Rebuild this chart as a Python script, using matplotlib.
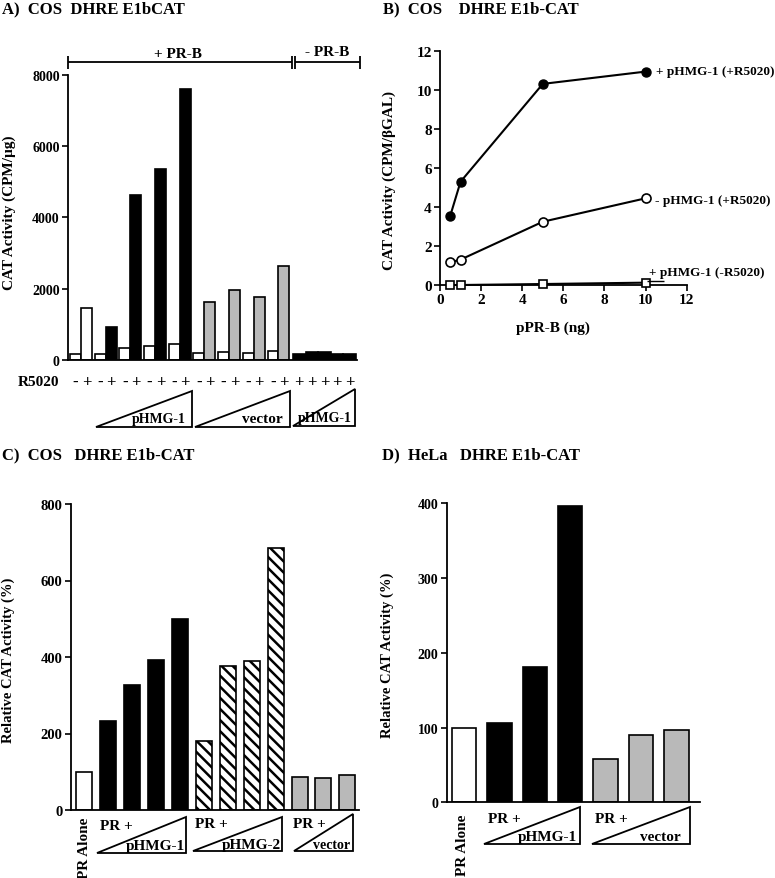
import matplotlib
matplotlib.use('Agg')
import matplotlib.pyplot as plt
from matplotlib import transforms
from matplotlib.patches import Polygon
import numpy as np

plt.rcParams['font.family'] = ['Liberation Serif', 'DejaVu Serif']
plt.rcParams['font.weight'] = 'bold'
plt.rcParams['hatch.linewidth'] = 1.8
plt.rcParams['axes.linewidth'] = 1.3

# ---------------- data ----------------
# Panel A: pairs (-R5020 white, +R5020 filled), then -PR-B bars
a_minus = [150, 150, 320, 396, 453, 180, 217, 180, 236]
a_plus = [1453, 924, 4627, 5358, 7606, 1622, 1953, 1764, 2624]
a_plus_kind = ['white', 'black', 'black', 'black', 'black', 'gray', 'gray', 'gray', 'gray']
a_noPR = [150, 205, 205, 170, 170]
a_yticks = [0, 2000, 4000, 6000, 8000]

# Panel B
b_x = [0.5, 1, 5, 10]
b_filled = [3.55, 5.29, 10.3, 10.93]
b_open = [1.16, 1.3, 3.24, 4.44]
b_square = [0.0, 0.0, 0.05, 0.12]
b_ticks = [0, 2, 4, 6, 8, 10, 12]

# Panel C
c_values = [100, 233, 327, 391, 499, 180, 377, 389, 685, 85, 83, 91]
c_kind = ['white'] + ['black'] * 4 + ['hatch'] * 4 + ['gray'] * 3
c_yticks = [0, 200, 400, 600, 800]

# Panel D
d_values = [100, 106, 181, 397, 58, 90, 97]
d_kind = ['white'] + ['black'] * 3 + ['gray'] * 3
d_yticks = [0, 100, 200, 300, 400]

STY = {
    'white': dict(facecolor='white', edgecolor='black'),
    'black': dict(facecolor='black', edgecolor='black'),
    'gray': dict(facecolor='#b9b9b9', edgecolor='black'),
    'hatch': dict(facecolor='white', edgecolor='black', hatch='\\\\\\'),
}

W, H = 775, 879
fig = plt.figure(figsize=(7.75, 8.79), dpi=100)


def add_ax(l, t, r, b):
    return fig.add_axes([l / W, 1 - b / H, (r - l) / W, (b - t) / H])


def style(ax, size):
    for s in ('top', 'right'):
        ax.spines[s].set_visible(False)
    ax.tick_params(direction='out', length=4, width=1.2, labelsize=size, pad=2)
    for lab in ax.get_xticklabels() + ax.get_yticklabels():
        lab.set_fontweight('bold')


def bars(ax, x, vals, kinds, width):
    for xi, v, k in zip(x, vals, kinds):
        ax.bar(xi, v, width=width, linewidth=1.2, **STY[k])


# ---------------- Panel A ----------------
axA = add_ax(68, 76, 357, 360.7)
k = np.arange(len(a_minus))
wA = 0.445
xm = k - wA / 2
xp = k + wA / 2
bars(axA, xm, a_minus, ['white'] * len(a_minus), wA)
bars(axA, xp, a_plus, a_plus_kind, wA)
wN = 0.51
xn = xp[-1] + wA / 2 + 0.14 + wN / 2 + wN * np.arange(len(a_noPR))
bars(axA, xn, a_noPR, ['black'] * len(a_noPR), wN)
axA.set_xlim(-0.527, 11.18)
axA.set_ylim(0, 8000)
axA.set_yticks(a_yticks)
axA.set_xticks([])
style(axA, 10)

# ---------------- Panel B ----------------
axB = add_ax(440, 51.7, 686.7, 286)
axB.plot(b_x, b_filled, '-o', color='black', mfc='black', mec='black', ms=6.5, lw=1.5, clip_on=False, zorder=3)
axB.plot(b_x, b_open, '-o', color='black', mfc='white', mec='black', ms=6.5, lw=1.5, mew=1.2, clip_on=False, zorder=3)
axB.plot(b_x, b_square, '-s', color='black', mfc='white', mec='black', ms=6, lw=1.5, mew=1.2, clip_on=False, zorder=4)
axB.set_xlim(0, 12)
axB.set_ylim(0, 12)
axB.set_xticks(b_ticks)
axB.set_yticks(b_ticks)
style(axB, 11)

# ---------------- Panel C ----------------
axC = add_ax(70.7, 505, 359, 811)
bars(axC, np.arange(len(c_values)), c_values, c_kind, 0.67)
axC.set_xlim(-0.577, 11.49)
axC.set_ylim(0, 800)
axC.set_yticks(c_yticks)
axC.set_xticks([])
style(axC, 10.5)

# ---------------- Panel D ----------------
axD = add_ax(446.7, 504.3, 700, 803.3)
bars(axD, np.arange(len(d_values)), d_values, d_kind, 0.69)
axD.set_xlim(-0.49, 6.67)
axD.set_ylim(0, 400)
axD.set_yticks(d_yticks)
axD.set_xticks([])
style(axD, 10)

# ---------------- overlay annotations ----------------
ov = fig.add_axes([0, 0, 1, 1])
ov.set_xlim(0, W)
ov.set_ylim(H, 0)
ov.axis('off')


def txt(x, y, s, size=11, **kw):
    kw.setdefault('ha', 'left')
    kw.setdefault('va', 'center')
    ov.text(x, y, s, fontsize=size, fontweight='bold', **kw)


def tri(pts):
    ov.add_patch(Polygon(pts, closed=True, fill=False, edgecolor='black', linewidth=1.3))


def line(xs, ys, lw=1.3):
    ov.plot(xs, ys, color='black', lw=lw, solid_capstyle='butt')


# titles
txt(2, 9, 'A)  COS  DHRE E1bCAT', 12)
txt(383, 9, 'B)  COS    DHRE E1b-CAT', 12)
txt(2, 455, 'C)  COS   DHRE E1b-CAT', 12)
txt(382, 455, 'D)  HeLa   DHRE E1b-CAT', 12)

# Panel A extras
txt(9, 213, 'CAT Activity (CPM/µg)', 11, rotation=90, ha='center')
line([68, 292], [63, 63])
line([295, 360], [63, 63])
for xx in (68, 292, 295, 360):
    line([xx, xx], [57, 70])
txt(178, 55, '+ PR-B', 11, ha='center')
txt(327, 53, '- PR-B', 11, ha='center')
trA = transforms.blended_transform_factory(axA.transData, ov.transData)
for xi in xm:
    ov.text(xi, 383, '-', transform=trA, ha='center', va='center', fontsize=12, fontweight='bold')
for xi in list(xp) + list(xn):
    ov.text(xi, 383, '+', transform=trA, ha='center', va='center', fontsize=12, fontweight='bold')
txt(18, 383, 'R5020', 11)
tri([(96, 428), (192, 428), (192, 392)])
txt(159, 420, 'pHMG-1', 10, ha='center')
tri([(195, 428), (290, 428), (290, 392)])
txt(262, 420, 'vector', 11, ha='center')
tri([(293, 427), (355, 427), (355, 390)])
txt(325, 419, 'pHMG-1', 10, ha='center')

# Panel B extras
txt(389, 181, 'CAT Activity (CPM/βGAL)', 11, rotation=90, ha='center')
txt(553, 328, 'pPR-B (ng)', 11, ha='center')
txt(656, 72, '+ pHMG-1 (+R5020)', 9.5)
txt(655, 201, '- pHMG-1 (+R5020)', 9.5)
txt(649, 273, '+ pHMG-1 (-R5020)', 9.5)
line([647, 664], [281.5, 281.5], lw=1.0)

# Panel C extras
txt(8, 660, 'Relative CAT Activity (%)', 10.5, rotation=90, ha='center')
txt(84, 818, 'PR Alone', 11, rotation=90, ha='center', va='top')
txt(100, 827, 'PR +', 11)
tri([(97, 854), (186, 854), (186, 818)])
txt(155, 847, 'pHMG-1', 11, ha='center')
txt(195, 825, 'PR +', 11)
tri([(193, 852), (282, 852), (282, 818)])
txt(251, 846, 'pHMG-2', 11, ha='center')
txt(293, 825, 'PR +', 11)
tri([(294, 852), (353, 852), (353, 815)])
txt(332, 846, 'vector', 10, ha='center')

# Panel D extras
txt(387, 655, 'Relative CAT Activity (%)', 10.5, rotation=90, ha='center')
txt(463, 815, 'PR Alone', 11, rotation=90, ha='center', va='top')
txt(488, 820, 'PR +', 11)
tri([(484, 845), (580, 845), (580, 808)])
txt(547, 838, 'pHMG-1', 11, ha='center')
txt(595, 820, 'PR +', 11)
tri([(592, 845), (690, 845), (690, 808)])
txt(660, 838, 'vector', 11, ha='center')

fig.savefig('out.png', dpi=100)
